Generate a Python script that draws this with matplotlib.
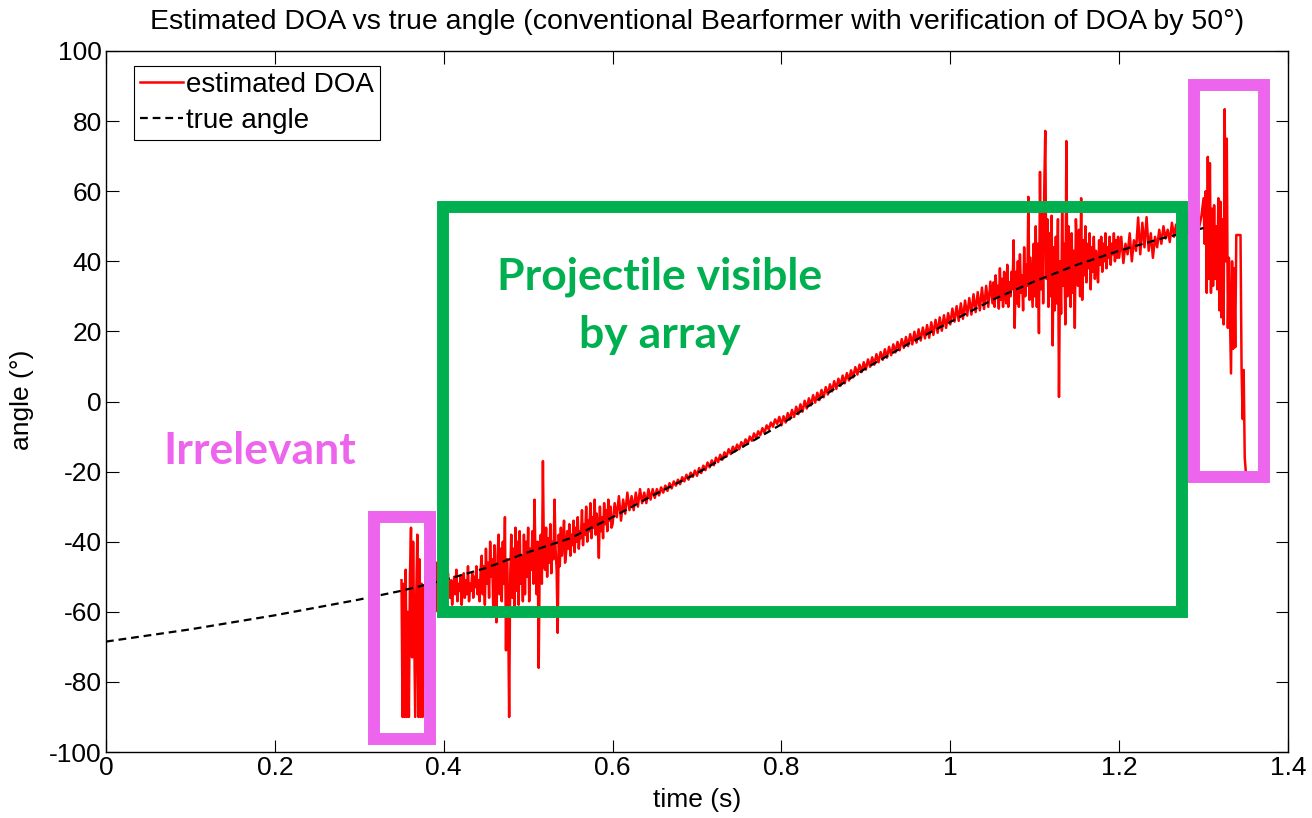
import numpy as np
import matplotlib
matplotlib.use("Agg")
import matplotlib.pyplot as plt
from matplotlib.patches import Rectangle

plt.rcParams['font.family'] = ['Liberation Sans', 'DejaVu Sans']
plt.rcParams['axes.unicode_minus'] = False

# True bearing of the projectile (degrees) against time (s)
true_time = [0.0, 0.1, 0.2, 0.3, 0.35, 0.4, 0.45, 0.5, 0.55, 0.6, 0.65, 0.7,
             0.75, 0.8, 0.85, 0.9, 0.95, 1.0, 1.05, 1.1, 1.15, 1.2, 1.25, 1.3]
true_angle = [-68.5, -65.0, -61.0, -56.5, -54.0, -51.0, -47.5, -43.0, -39.0, -33.0,
              -26.5, -20.5, -13.5, -6.5, 1.6, 9.5, 16.4, 22.7, 29.0, 34.3,
              39.0, 43.0, 46.5, 49.5]

# Beamformer DOA estimates (degrees); each block is sampled uniformly
# from its start time with its own step (s).

# 0.350 s .. 0.39875 s, step 1.25 ms
doa_onset = [-51, -90, -52, -90, -48, -90, -60, -90, -50, -36,
             -73, -40, -65, -90, -55, -38, -90, -45, -90, -52,
             -90, -53, -56, -50, -58, -48, -60, -51, -57, -47,
             -61, -42, -60, -46, -55, -49, -57, -50, -54, -48]

# 0.400 s .. 0.59875 s, step 1.25 ms
doa_entry = [-50, -55, -52, -57, -49, -54, -56, -51, -58, -53,
             -50, -55, -48, -57, -52, -54, -50, -58, -53, -49,
             -56, -51, -55, -47, -57, -52, -54, -49, -56, -50,
             -53, -47, -55, -51, -57, -48]
doa_burst_a = [-44, -55, -47, -58, -42, -52, -46, -56, -40, -50,
               -45, -60, -41, -53, -63, -44, -38, -55, -42, -57]
doa_burst_b = [-40, -52, -33, -71, -45, -58, -90, -50, -38, -56,
               -42, -60, -36, -54, -40, -58, -37, -52, -44, -57]
doa_burst_c = [-38, -55, -40, -50, -36, -57, -42, -48, -37, -52,
               -28, -45, -55, -40, -76, -44, -38, -52, -17, -46]
doa_burst_d = [-48, -36, -50, -39, -46, -35, -49, -40, -45, -28,
               -42, -48, -66, -38, -47, -36, -44, -40, -34, -46]
doa_settle = [-43, -37, -42, -35, -44, -38, -41, -34, -43, -36,
              -40, -33, -42, -37, -39, -31, -41, -35, -38, -30,
              -40, -34, -37, -29, -39, -33, -36, -28, -38, -32,
              -35, -44.6, -30, -37, -33, -39, -29, -35, -31, -37,
              -28, -34, -30, -36]

# 0.600 s .. 1.0475 s, step 2.5 ms
doa_approach = [-35, -29, -33, -27, -34, -28, -32, -26, -31, -27,
                -31, -26, -30, -25, -29, -26, -29, -25, -28, -25]
doa_track1 = [-27.5, -25.0, -26.8, -24.5, -26.0, -24.0, -25.5, -23.3, -24.8, -22.8,
              -24.0, -22.3, -23.6, -21.6, -22.8, -20.9, -22.3, -20.3, -21.5, -19.7]
doa_track2 = [-21.2, -19.0, -20.4, -18.3, -19.6, -17.4, -18.8, -16.8, -18.2, -16.0,
              -17.3, -15.2, -16.6, -14.5, -15.7, -13.6, -15.0, -12.9, -14.2, -12.3]
doa_track3 = [-13.6, -11.6, -12.8, -10.8, -12.1, -10.0, -11.2, -9.1, -10.5, -8.5,
              -9.6, -7.6, -8.9, -6.8, -8.0, -6.0, -7.2, -5.1, -6.4, -4.4]
doa_track4 = [-6.8, -4.2, -6.0, -3.3, -5.1, -2.4, -4.4, -1.5, -3.6, -0.8,
              -2.9, 0.2, -2.0, 0.9, -1.1, 1.8, -0.3, 2.5, 0.4, 3.3]
doa_track5 = [1.2, 4.1, 2.0, 4.9, 2.9, 5.8, 3.6, 6.5, 4.5, 7.4,
              5.2, 8.1, 6.0, 8.9, 6.9, 9.8, 7.7, 10.5, 8.4, 11.2]
doa_track6 = [9.1, 12.0, 9.9, 12.6, 10.5, 13.5, 11.2, 14.1, 11.9, 14.9,
              12.5, 15.6, 13.2, 16.3, 14.0, 17.0, 14.6, 17.8, 15.3, 18.4]
doa_track7 = [15.8, 19.2, 16.3, 19.9, 16.8, 20.6, 17.4, 21.1, 18.0, 21.8,
              18.2, 22.6, 19.0, 23.3, 19.6, 24.0, 20.2, 24.6, 21.0, 25.2]
doa_track8 = [22.0, 26.5, 22.8, 27.2, 23.0, 28.0, 23.6, 28.8, 24.5, 29.5,
              24.8, 30.6, 25.5, 31.2, 26.0, 32.5, 26.4, 33.0, 27.0, 34.2]

# 1.050 s .. 1.19875 s, step 1.25 ms
doa_scatter_a = [28, 34, 27, 36, 30, 33, 26.5, 38, 29, 35,
                 27, 37, 31, 28, 39, 27, 34, 30, 37, 32]
doa_scatter_b = [46, 21, 37, 28, 40, 27, 42, 31, 36, 26,
                 44, 30, 39, 33, 58.4, 29, 41, 34, 27, 45]
doa_scatter_c = [30, 50, 27, 45, 19.5, 65.5, 32, 54, 28, 60,
                 77.2, 35, 52, 27, 48, 30, 53, 16, 44, 26]
doa_scatter_d = [47, 28, 52, 1.3, 40, 25, 54, 33, 45, 22,
                 74.3, 30, 50, 36, 27, 48, 31, 43, 21, 52]
doa_scatter_e = [44, 33, 49, 30, 58, 29, 46, 36, 50, 34,
                 45, 38, 48, 32, 44, 37, 47, 35, 43, 39]
doa_scatter_f = [34, 46, 39, 47, 37, 45, 40, 48, 38, 44,
                 41, 47, 39, 45, 42, 48, 40, 46, 41, 47]

# 1.200 s .. 1.2975 s, step 2.5 ms
doa_tail1 = [41.0, 47.0, 39.5, 45.0, 42.0, 48.0, 40.0, 46.0, 43.0, 52.5,
             42.0, 51.0, 44.0, 52.6, 43.0, 48.0, 41.0, 47.0, 44.0, 49.0]
doa_tail2 = [45.0, 50.0, 46.5, 49.0, 45.5, 51.0, 47.0, 50.5, 48.0, 53.8,
             47.5, 51.0, 48.0, 53.7, 49.0, 52.0, 48.5, 54.0, 50.0, 53.0]

# 1.300 s .. 1.350 s, step 1.25 ms
doa_exit = [58, 45, 60, 31, 69.8, 35, 68, 31, 55, 33,
            56, 35, 50, 32, 58, 26, 57, 24, 52, 22,
            83.4, 40, 75, 21, 41, 25, 8, 40, 15, 38,
            15.5, 47.5, 47.5, 47.5, 47.5, 47.5, 9.5, -5, 9, -16,
            -20]

doa_blocks = [
    (0.35, 0.00125, doa_onset),
    (0.40, 0.00125, doa_entry + doa_burst_a + doa_burst_b + doa_burst_c +
     doa_burst_d + doa_settle),
    (0.60, 0.0025, doa_approach + doa_track1 + doa_track2 + doa_track3 +
     doa_track4 + doa_track5 + doa_track6 + doa_track7 + doa_track8),
    (1.05, 0.00125, doa_scatter_a + doa_scatter_b + doa_scatter_c +
     doa_scatter_d + doa_scatter_e + doa_scatter_f),
    (1.20, 0.0025, doa_tail1 + doa_tail2),
    (1.30, 0.00125, doa_exit),
]
doa_time = np.concatenate([t0 + dt * np.arange(len(v)) for t0, dt, v in doa_blocks])
doa_angle = np.concatenate([np.asarray(v, dtype=float) for _, _, v in doa_blocks])

x_ticks = [0, 0.2, 0.4, 0.6, 0.8, 1.0, 1.2, 1.4]
x_tick_labels = ['0', '0.2', '0.4', '0.6', '0.8', '1', '1.2', '1.4']
y_ticks = [-100, -80, -60, -40, -20, 0, 20, 40, 60, 80, 100]

W, H = 1312, 818
fig = plt.figure(figsize=(W / 100, H / 100), dpi=100)
ax = fig.add_axes([106 / W, 66 / H, 1182 / W, 701 / H])

ax.plot(doa_time, doa_angle, color='#ff0000', lw=1.8, label='estimated DOA', zorder=2)
ax.plot(true_time, true_angle, color='black', lw=1.6, dashes=(3.5, 2.2),
        label='true angle', zorder=3)

ax.set_xlim(0, 1.4)
ax.set_ylim(-100, 100)
ax.set_xticks(x_ticks)
ax.set_xticklabels(x_tick_labels)
ax.set_yticks(y_ticks)
ax.tick_params(direction='in', length=9, width=0.8, top=True, right=True,
               labelsize=19, pad=3)
for s in ax.spines.values():
    s.set_linewidth(1.0)

# Annotation frames
pink = '#ec65ec'
green = '#00b050'
frame_lw = 8.6
frames = [
    ((0.3174, -96.3), 0.3838 - 0.3174, -33.0 + 96.3, pink),
    ((0.3991, -60.1), 1.2744 - 0.3991, 55.6 + 60.1, green),
    ((1.2892, -21.5), 1.3716 - 1.2892, 90.3 + 21.5, pink),
]
for (xy, w, h, c) in frames:
    ax.add_patch(Rectangle(xy, w, h, fill=False, edgecolor=c, lw=frame_lw,
                           joinstyle='miter', zorder=4))

label_font = ['Lato', 'DejaVu Sans']
ax.text(0.1818, -14.0, 'Irrelevant', color=pink, fontsize=32, fontweight='bold',
        family=label_font, ha='center', va='center', zorder=5)
ax.text(0.6560, 35.5, 'Projectile visible', color=green, fontsize=32,
        fontweight='bold', family=label_font, ha='center', va='center', zorder=5)
ax.text(0.6560, 19.0, 'by array', color=green, fontsize=32,
        fontweight='bold', family=label_font, ha='center', va='center', zorder=5)

leg = ax.legend(loc='upper left', bbox_to_anchor=(0.0237, 0.9786), borderaxespad=0,
                fontsize=20, handlelength=1.55, handletextpad=0.1, labelspacing=0.35,
                borderpad=0.22, fancybox=False, framealpha=1, edgecolor='black')
leg.get_frame().set_linewidth(0.8)
leg.set_zorder(6)

fig.text(697 / W, 1 - 22 / H,
         'Estimated DOA vs true angle (conventional Bearformer with verification of DOA by 50°)',
         ha='center', va='center', fontsize=20.5)
fig.text(697 / W, 1 - 800 / H, 'time (s)', ha='center', va='center', fontsize=19)
fig.text(22 / W, 1 - 400 / H, 'angle (°)', ha='center', va='center', fontsize=19,
         rotation=90)

fig.savefig('out.png', dpi=100)
